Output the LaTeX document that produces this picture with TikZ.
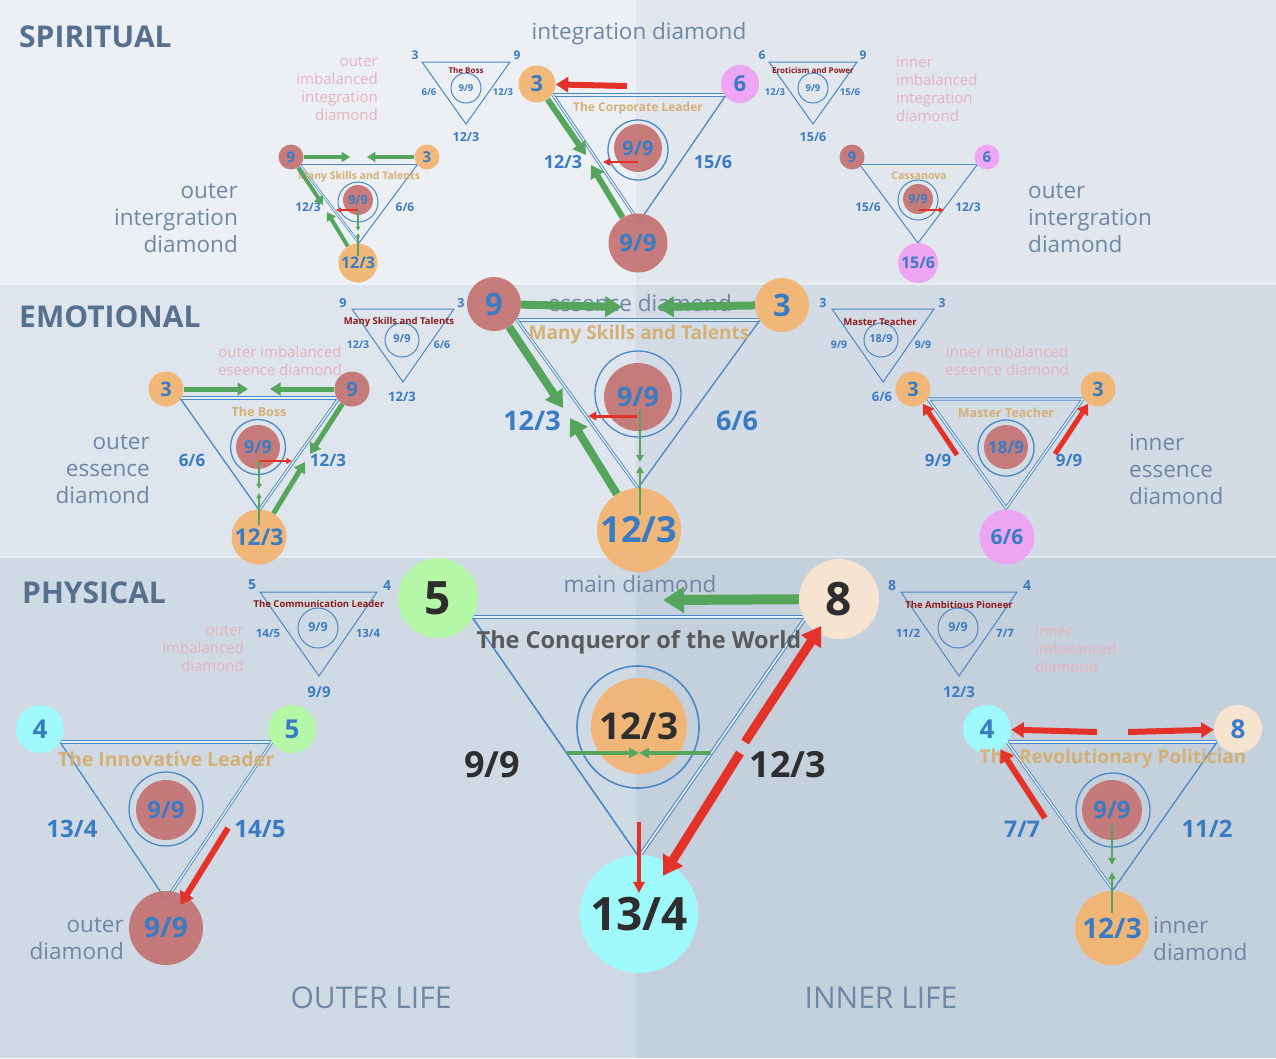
\documentclass[tikz,border=0pt]{standalone}
\usepackage{fontspec}
\setmainfont{Open Sans}
\usetikzlibrary{arrows.meta, positioning, calc}

\definecolor{bandSL}{HTML}{ECF0F5}
\definecolor{bandSR}{HTML}{E1E7ED}
\definecolor{bandEL}{HTML}{DEE5ED}
\definecolor{bandER}{HTML}{D3DBE5}
\definecolor{bandPL}{HTML}{D0DAE4}
\definecolor{bandPR}{HTML}{C5D0DD}
\definecolor{numblue}{HTML}{3A7CC4}
\definecolor{lineblue}{HTML}{4A88C8}
\definecolor{cred}{HTML}{C47272}
\definecolor{corange}{HTML}{F3B470}
\definecolor{cpink}{HTML}{F0A0F4}
\definecolor{ccyan}{HTML}{9CFCFF}
\definecolor{cgreen}{HTML}{B3FBA2}
\definecolor{cbeige}{HTML}{FBE6D0}
\definecolor{titletan}{HTML}{D5B075}
\definecolor{darkred}{HTML}{8E1B1B}
\definecolor{agreen}{HTML}{55A65C}
\definecolor{ared}{HTML}{E3322A}
\definecolor{sectgray}{HTML}{56708F}
\definecolor{lblgray}{HTML}{6F87A6}
\definecolor{fadepink}{HTML}{E8B3BC}
\definecolor{darktxt}{HTML}{2E2E2E}
\definecolor{maintitle}{HTML}{5A5A5A}

\begin{document}
\begin{tikzpicture}[
  x=1pt, y=-1pt,
  every node/.style={inner sep=0pt},
  sect/.style={anchor=west, text=sectgray, font=\bfseries\fontsize{30}{30}\selectfont},
  life/.style={text=lblgray, font=\fontsize{30}{30}\selectfont},
  zone/.style={text=lblgray, font=\fontsize{22.5}{27}\selectfont},
  fade/.style={text=fadepink, font=\fontsize{15}{18}\selectfont},
  bf/.style={font=\bfseries\fontsize{#1}{#1}\selectfont},
  vtx/.style={circle, minimum size=#1, fill opacity=0.92, text opacity=1, text=numblue},
  ring/.style={circle, draw=lineblue, line width=1.3pt, minimum size=#1},
  edge/.style={draw=lineblue, line width=1.3pt},
  edgeD/.style={draw=lineblue, line width=0.9pt, double=lineblue!12!white, double distance=1.3pt},
  elbl/.style={text=numblue, bf=#1},
  ttl/.style={text=titletan, bf=#1},
  sttl/.style={text=darkred, bf=#1},
  garr/.style={draw=agreen, line width=#1, -{Triangle[length=0pt 2.1, width=0pt 2.5]}},
  rarr/.style={draw=ared, line width=#1, -{Triangle[length=0pt 2.1, width=0pt 2.5]}},
  gthin/.style={draw=agreen, line width=#1, -{Triangle[length=0pt 2.8, width=0pt 2.8]}},
  rthin/.style={draw=ared, line width=#1, -{Triangle[length=0pt 2.8, width=0pt 2.8]}},
]
\useasboundingbox (0,0) rectangle (1276,1058);

%% ── Bands ─────────────────────────────────────────────────────────────────
\fill[bandSL] (0,0) rectangle (636,284);
\fill[bandSR] (636,0) rectangle (1276,284);
\fill[bandEL] (0,284) rectangle (636,557);
\fill[bandER] (636,284) rectangle (1276,557);
\fill[bandPL] (0,557) rectangle (636,1058);
\fill[bandPR] (636,557) rectangle (1276,1058);
\draw[white, opacity=0.45, line width=1.5pt] (0,284) -- (1276,284) (0,557) -- (1276,557);

%% ── Headings ──────────────────────────────────────────────────────────────
\node[sect] (hSpirit) at (19,37)  {SPIRITUAL};
\node[sect] (hEmot)   at (19,317) {EMOTIONAL};
\node[sect] (hPhys)   at (22,593) {PHYSICAL};
\node[life] (hOuter)  at (371,998) {OUTER LIFE};
\node[life] (hInner)  at (881,998) {INNER LIFE};

%% ── Zone labels ───────────────────────────────────────────────────────────
\node[zone] (zInt) at (639,34) {integration diamond};
\node[zone, align=right, anchor=east] (zOutInt) at (238,218) {outer\\intergration\\diamond};
\node[zone, align=left, anchor=west]  (zInnInt) at (1028,218) {outer\\intergration\\diamond};
\node[zone] (zEss) at (640,303) {essence diamond};
\node[zone, align=right, anchor=east] (zOutEss) at (150,469) {outer\\essence\\diamond};
\node[zone, align=left, anchor=west]  (zInnEss) at (1129,469) {inner\\essence\\diamond};
\node[zone] (zMain) at (640,584) {main diamond};
\node[zone, align=right, anchor=east] (zOut) at (124,939) {outer\\diamond};
\node[zone, align=left, anchor=west]  (zInn) at (1153,939) {inner\\diamond};

\node[fade, align=right, anchor=east] (fOutInt) at (378,89) {outer\\imbalanced\\integration\\diamond};
\node[fade, align=left, anchor=west]  (fInnInt) at (896,89) {inner\\imbalanced\\integration\\diamond};
\node[fade, align=center] (fOutEss) at (280,361) {outer imbalanced\\eseence diamond};
\node[fade, align=center] (fInnEss) at (1007,361) {inner imbalanced\\eseence diamond};
\node[fade, align=right, anchor=east] (fOut) at (244,649) {outer\\imbalanced\\diamond};
\node[fade, align=left, anchor=west]  (fInn) at (1035,649) {inner\\imbalanced\\diamond};

%% ── Small imbalanced: The Boss ────────────────────────────────────────────
\coordinate (sbA) at (422,62);
\coordinate (sbB) at (510,62);
\coordinate (sbC) at (466,124);
\draw[edge, line width=1pt] (sbA) -- (sbB) -- (sbC) -- cycle;
\node[ring=30pt, line width=1pt] (sbRing) at (466,88) {};
\node[elbl=9.5]  (sbCen) at (466,88) {9/9};
\node[sttl=8]    (sbTtl) at (466,70) {The Boss};
\node[elbl=12]   (sbL)   at (415,55) {3};
\node[elbl=12]   (sbR)   at (517,55) {9};
\node[elbl=9.5]  (sbEl)  at (429,92) {6/6};
\node[elbl=9.5]  (sbEr)  at (503,92) {12/3};
\node[elbl=12.5] (sbBot) at (466,137) {12/3};

%% ── Small imbalanced: Eroticism and Power ─────────────────────────────────
\coordinate (seA) at (769,62);
\coordinate (seB) at (857,62);
\coordinate (seC) at (813,124);
\draw[edge, line width=1pt] (seA) -- (seB) -- (seC) -- cycle;
\node[ring=30pt, line width=1pt] (seRing) at (813,88) {};
\node[elbl=9.5]  (seCen) at (813,88) {9/9};
\node[sttl=8]    (seTtl) at (813,70) {Eroticism and Power};
\node[elbl=12]   (seL)   at (762,55) {6};
\node[elbl=12]   (seR)   at (863,55) {9};
\node[elbl=9.5]  (seEl)  at (775,92) {12/3};
\node[elbl=9.5]  (seEr)  at (850,92) {15/6};
\node[elbl=12.5] (seBot) at (813,137) {15/6};

%% ── Integration diamond: The Corporate Leader ─────────────────────────────
\coordinate (intA) at (553,95);
\coordinate (intB) at (726,95);
\coordinate (intC) at (639,222);
\draw[edgeD] (intA) -- (intB);
\draw[edgeD] (intA) -- (intC);
\draw[edge]  (intB) -- (intC);
\node[ring=60pt] (intRing) at (638,150) {};
\node[vtx=48pt, fill=cred, bf=20]    (intCen) at (638,148) {9/9};
\node[vtx=37pt, fill=corange, bf=22] (intTL)  at (537,84)  {3};
\node[vtx=38pt, fill=cpink, bf=22]   (intTR)  at (740,84)  {6};
\node[vtx=59pt, fill=cred, bf=24]    (intBot) at (638,243) {9/9};
\node[ttl=12]  (intTtl) at (638,108) {The Corporate Leader};
\node[elbl=18] (intEl)  at (563,162) {12/3};
\node[elbl=18] (intEr)  at (713,162) {15/6};
\coordinate (intRa) at (627,86);
\coordinate (intGa) at (586,155);
\coordinate (intGb) at (591,165);
\coordinate (intSa) at (638,162);
\coordinate (intSb) at (603,162);
\draw[rarr=6pt]    (intRa) -- (intTL);
\draw[garr=6pt]    (intTL) -- (intGa);
\draw[garr=6pt]    (intBot) -- (intGb);
\draw[rthin=2.6pt] (intSa) -- (intSb);

%% ── Outer integration diamond: Many Skills and Talents ────────────────────
\coordinate (oiA) at (300,165);
\coordinate (oiB) at (417,165);
\coordinate (oiC) at (359,243);
\draw[edgeD, line width=0.7pt, double distance=1pt] (oiA) -- (oiB);
\draw[edgeD, line width=0.7pt, double distance=1pt] (oiA) -- (oiC);
\draw[edge, line width=1pt] (oiB) -- (oiC);
\node[ring=40pt, line width=1pt] (oiRing) at (358,202) {};
\node[vtx=30pt, fill=cred, bf=12.5]    (oiCen) at (358,200) {9/9};
\node[vtx=25pt, fill=cred, bf=15]      (oiTL)  at (291,157) {9};
\node[vtx=25pt, fill=corange, bf=15]   (oiTR)  at (427,157) {3};
\node[vtx=39pt, fill=corange, bf=16]   (oiBot) at (358,263) {12/3};
\node[ttl=10.5] (oiTtl) at (359,177) {Many Skills and Talents};
\node[elbl=12]  (oiEl)  at (308,207) {12/3};
\node[elbl=12]  (oiEr)  at (405,207) {6/6};
\coordinate (oiGa) at (350,157);
\coordinate (oiGb) at (367,157);
\coordinate (oiGc) at (323,205);
\coordinate (oiGd) at (327,212);
\coordinate (oiSa) at (358,210);
\coordinate (oiSb) at (336,210);
\coordinate (oiVa) at (358,231);
\coordinate (oiVb) at (358,256);
\coordinate (oiVc) at (358,233);
\draw[garr=4pt]    (oiTL) -- (oiGa);
\draw[garr=4pt]    (oiTR) -- (oiGb);
\draw[garr=4pt]    (oiTL) -- (oiGc);
\draw[garr=4pt]    (oiBot) -- (oiGd);
\draw[rthin=1.8pt] (oiSa) -- (oiSb);
\draw[gthin=1.6pt] (oiSa) -- (oiVa);
\draw[gthin=1.6pt] (oiVb) -- (oiVc);

%% ── Inner integration diamond: Cassanova ──────────────────────────────────
\coordinate (iiA) at (860,165);
\coordinate (iiB) at (977,165);
\coordinate (iiC) at (918,243);
\draw[edgeD, line width=0.7pt, double distance=1pt] (iiA) -- (iiB);
\draw[edge, line width=1pt] (iiA) -- (iiC) -- (iiB);
\node[ring=40pt, line width=1pt] (iiRing) at (918,200) {};
\node[vtx=30pt, fill=cred, bf=12.5]  (iiCen) at (918,199) {9/9};
\node[vtx=25pt, fill=cred, bf=15]    (iiTL)  at (852,157) {9};
\node[vtx=25pt, fill=cpink, bf=15]   (iiTR)  at (987,157) {6};
\node[vtx=40pt, fill=cpink, bf=16]   (iiBot) at (918,263) {15/6};
\node[ttl=10.5] (iiTtl) at (919,176) {Cassanova};
\node[elbl=12]  (iiEl)  at (868,207) {15/6};
\node[elbl=12]  (iiEr)  at (968,207) {12/3};
\coordinate (iiSa) at (919,210);
\coordinate (iiSb) at (944,210);
\draw[rthin=1.8pt] (iiSa) -- (iiSb);

%% ── Small imbalanced: Many Skills and Talents ─────────────────────────────
\coordinate (smA) at (352,309);
\coordinate (smB) at (454,309);
\coordinate (smC) at (403,382);
\draw[edge, line width=1pt] (smA) -- (smB) -- (smC) -- cycle;
\node[ring=34pt, line width=1pt] (smRing) at (402,340) {};
\node[elbl=11]   (smCen) at (402,339) {9/9};
\node[sttl=9.5]  (smTtl) at (399,322) {Many Skills and Talents};
\node[elbl=12.5] (smL)   at (343,303) {9};
\node[elbl=12.5] (smR)   at (461,303) {3};
\node[elbl=10.5] (smEl)  at (358,345) {12/3};
\node[elbl=10.5] (smEr)  at (442,345) {6/6};
\node[elbl=13]   (smBot) at (402,397) {12/3};

%% ── Small imbalanced: Master Teacher ──────────────────────────────────────
\coordinate (stA) at (832,309);
\coordinate (stB) at (934,309);
\coordinate (stC) at (883,382);
\draw[edge, line width=1pt] (stA) -- (stB) -- (stC) -- cycle;
\node[ring=34pt, line width=1pt] (stRing) at (881,340) {};
\node[elbl=11]   (stCen) at (881,339) {18/9};
\node[sttl=9.5]  (stTtl) at (880,322) {Master Teacher};
\node[elbl=12.5] (stL)   at (823,303) {3};
\node[elbl=12.5] (stR)   at (942,303) {3};
\node[elbl=10.5] (stEl)  at (839,345) {9/9};
\node[elbl=10.5] (stEr)  at (923,345) {9/9};
\node[elbl=13]   (stBot) at (882,397) {6/6};

%% ── Essence diamond: Many Skills and Talents ──────────────────────────────
\coordinate (essA) at (517,320);
\coordinate (essB) at (760,320);
\coordinate (essC) at (638,488);
\draw[edgeD] (essA) -- (essB);
\draw[edgeD] (essA) -- (essC);
\draw[edge]  (essB) -- (essC);
\node[ring=86pt] (essRing) at (638,394) {};
\node[vtx=68pt, fill=cred, bf=27]    (essCen) at (638,397) {9/9};
\node[vtx=54pt, fill=cred, bf=31]    (essTL)  at (494,304) {9};
\node[vtx=54pt, fill=corange, bf=31] (essTR)  at (782,305) {3};
\node[vtx=84pt, fill=corange, bf=36] (essBot) at (639,530) {12/3};
\node[ttl=19]  (essTtl) at (639,335) {Many Skills and Talents};
\node[elbl=27] (essEl)  at (532,421) {12/3};
\node[elbl=27] (essEr)  at (737,421) {6/6};
\coordinate (essGa) at (622,307);
\coordinate (essGb) at (657,307);
\coordinate (essGc) at (563,408);
\coordinate (essGd) at (570,418);
\coordinate (essSa) at (637,416);
\coordinate (essSb) at (588,416);
\coordinate (essVa) at (640,410);
\coordinate (essVb) at (640,462);
\coordinate (essVc) at (640,515);
\coordinate (essVd) at (640,466);
\draw[garr=8pt]    (essTL) -- (essGa);
\draw[garr=8pt]    (essTR) -- (essGb);
\draw[garr=8pt]    (essTL) -- (essGc);
\draw[garr=8pt]    (essBot) -- (essGd);
\draw[rthin=3pt]   (essSa) -- (essSb);
\draw[gthin=2.5pt] (essVa) -- (essVb);
\draw[gthin=2.5pt] (essVc) -- (essVd);

%% ── Outer essence diamond: The Boss ───────────────────────────────────────
\coordinate (oeA) at (180,398);
\coordinate (oeB) at (339,398);
\coordinate (oeC) at (259,510);
\draw[edgeD] (oeA) -- (oeB);
\draw[edgeD] (oeB) -- (oeC);
\draw[edge]  (oeA) -- (oeC);
\node[ring=55pt] (oeRing) at (258,447) {};
\node[vtx=44pt, fill=cred, bf=18]    (oeCen) at (258,447) {9/9};
\node[vtx=35pt, fill=corange, bf=20] (oeTL)  at (166,389) {3};
\node[vtx=35pt, fill=cred, bf=20]    (oeTR)  at (352,389) {9};
\node[vtx=55pt, fill=corange, bf=23] (oeBot) at (259,537) {12/3};
\node[ttl=12.5] (oeTtl) at (259,412) {The Boss};
\node[elbl=17]  (oeEl)  at (192,460) {6/6};
\node[elbl=17]  (oeEr)  at (328,460) {12/3};
\coordinate (oeGa) at (248,389);
\coordinate (oeGb) at (270,389);
\coordinate (oeGc) at (310,454);
\coordinate (oeGd) at (305,462);
\coordinate (oeSa) at (259,461);
\coordinate (oeSb) at (292,461);
\coordinate (oeVa) at (259,489);
\coordinate (oeVb) at (259,525);
\coordinate (oeVc) at (259,493);
\draw[garr=5pt]    (oeTL) -- (oeGa);
\draw[garr=5pt]    (oeTR) -- (oeGb);
\draw[garr=5pt]    (oeTR) -- (oeGc);
\draw[garr=5pt]    (oeBot) -- (oeGd);
\draw[rthin=2pt]   (oeSa) -- (oeSb);
\draw[gthin=1.8pt] (oeSa) -- (oeVa);
\draw[gthin=1.8pt] (oeVb) -- (oeVc);

%% ── Inner essence diamond: Master Teacher ─────────────────────────────────
\coordinate (ieA) at (928,399);
\coordinate (ieB) at (1083,399);
\coordinate (ieC) at (1006,508);
\draw[edgeD] (ieA) -- (ieB) -- (ieC) -- cycle;
\node[ring=56pt] (ieRing) at (1006,448) {};
\node[vtx=44pt, fill=cred, bf=17]   (ieCen) at (1006,447) {18/9};
\node[vtx=35pt, fill=corange, bf=20] (ieTL) at (913,389) {3};
\node[vtx=35pt, fill=corange, bf=20] (ieTR) at (1098,389) {3};
\node[vtx=55pt, fill=cpink, bf=21]   (ieBot) at (1007,537) {6/6};
\node[ttl=12.5] (ieTtl) at (1006,413) {Master Teacher};
\node[elbl=17]  (ieEl)  at (938,460) {9/9};
\node[elbl=17]  (ieEr)  at (1069,460) {9/9};
\coordinate (ieRa) at (957,455);
\coordinate (ieRb) at (1055,454);
\draw[rarr=5pt] (ieRa) -- (ieTL);
\draw[rarr=5pt] (ieRb) -- (ieTR);

%% ── Small imbalanced: The Communication Leader ────────────────────────────
\coordinate (scA) at (260,592);
\coordinate (scB) at (377,592);
\coordinate (scC) at (319,676);
\draw[edge, line width=1pt] (scA) -- (scB) -- (scC) -- cycle;
\node[ring=40pt, line width=1pt] (scRing) at (318,628) {};
\node[elbl=12.5] (scCen) at (318,627) {9/9};
\node[sttl=9.5]  (scTtl) at (319,604) {The Communication Leader};
\node[elbl=14]   (scL)   at (252,585) {5};
\node[elbl=14]   (scR)   at (387,585) {4};
\node[elbl=11.5] (scEl)  at (268,633) {14/5};
\node[elbl=11.5] (scEr)  at (368,633) {13/4};
\node[elbl=15]   (scBot) at (319,692) {9/9};

%% ── Small imbalanced: The Ambitious Pioneer ───────────────────────────────
\coordinate (saA) at (901,592);
\coordinate (saB) at (1017,592);
\coordinate (saC) at (959,676);
\draw[edge, line width=1pt] (saA) -- (saB) -- (saC) -- cycle;
\node[ring=40pt, line width=1pt] (saRing) at (958,628) {};
\node[elbl=12.5] (saCen) at (958,627) {9/9};
\node[sttl=9.5]  (saTtl) at (959,605) {The Ambitious Pioneer};
\node[elbl=14]   (saL)   at (892,585) {8};
\node[elbl=14]   (saR)   at (1027,585) {4};
\node[elbl=11.5] (saEl)  at (908,633) {11/2};
\node[elbl=11.5] (saEr)  at (1005,633) {7/7};
\node[elbl=15]   (saBot) at (959,692) {12/3};

%% ── Main diamond: The Conqueror of the World ──────────────────────────────
\coordinate (mnA) at (472,617);
\coordinate (mnB) at (806,617);
\coordinate (mnC) at (639,857);
\draw[edgeD, line width=1.2pt, double distance=1.6pt] (mnA) -- (mnB);
\draw[edgeD, line width=1.1pt, double distance=1.6pt] (mnB) -- (mnC);
\draw[edge, line width=1.6pt] (mnA) -- (mnC);
\node[ring=122pt, line width=1.6pt] (mnRing) at (638,727) {};
\node[vtx=96pt, fill=corange, text=darktxt, bf=37]  (mnCen) at (639,726) {12/3};
\node[vtx=80pt, fill=cgreen, text=darktxt, bf=46]   (mnTL)  at (438,598) {5};
\node[vtx=80pt, fill=cbeige, text=darktxt, bf=46]   (mnTR)  at (839,599) {8};
\node[vtx=118pt, fill=ccyan, text=darktxt, bf=46]   (mnBot) at (639,914) {13/4};
\node[text=maintitle, bf=23.5] (mnTtl) at (639,642) {The Conqueror of the World};
\node[text=darktxt, bf=36] (mnEl) at (492,765) {9/9};
\node[text=darktxt, bf=36] (mnEr) at (788,765) {12/3};
\coordinate (mnGa) at (663,600);
\coordinate (mnGb) at (567,753);
\coordinate (mnGc) at (639,753);
\coordinate (mnGd) at (711,753);
\coordinate (mnRa) at (639,822);
\coordinate (mnRb) at (639,893);
\coordinate (mnRc) at (745,742);
\coordinate (mnRd) at (740,753);
\draw[garr=10pt]  (mnTR) -- (mnGa);
\draw[gthin=3.5pt] (mnGb) -- (mnGc);
\draw[gthin=3.5pt] (mnGd) -- (mnGc);
\draw[rthin=4pt]  (mnRa) -- (mnRb);
\draw[rarr=9pt, shorten >=-8pt] (mnRc) -- (mnTR);
\draw[rarr=9pt, shorten >=-14pt] (mnRd) -- (mnBot);

%% ── Outer diamond: The Innovative Leader ──────────────────────────────────
\coordinate (odA) at (60,742);
\coordinate (odB) at (272,742);
\coordinate (odC) at (166,900);
\draw[edgeD] (odA) -- (odB);
\draw[edgeD] (odB) -- (odC);
\draw[edge]  (odA) -- (odC);
\node[ring=74pt] (odRing) at (166,809) {};
\node[vtx=60pt, fill=cred, bf=24]   (odCen) at (166,810) {9/9};
\node[vtx=48pt, fill=ccyan, bf=26]  (odTL)  at (40,729) {4};
\node[vtx=48pt, fill=cgreen, bf=26] (odTR)  at (292,729) {5};
\node[vtx=74pt, fill=cred, bf=28]   (odBot) at (166,928) {9/9};
\node[ttl=19.5] (odTtl) at (166,759) {The Innovative Leader};
\node[elbl=24]  (odEl)  at (72,829) {13/4};
\node[elbl=24]  (odEr)  at (260,829) {14/5};
\coordinate (odRa) at (228,828);
\draw[rarr=6pt, shorten >=-10pt] (odRa) -- (odBot);

%% ── Inner diamond: The Revolutionary Politician ───────────────────────────
\coordinate (idA) at (1007,742);
\coordinate (idB) at (1217,742);
\coordinate (idC) at (1113,890);
\draw[edgeD] (idA) -- (idB);
\draw[edgeD] (idA) -- (idC);
\draw[edge]  (idB) -- (idC);
\node[ring=74pt] (idRing) at (1113,810) {};
\node[vtx=60pt, fill=cred, bf=24]    (idCen) at (1112,810) {9/9};
\node[vtx=48pt, fill=ccyan, bf=26]   (idTL)  at (987,729) {4};
\node[vtx=48pt, fill=cbeige, bf=26]  (idTR)  at (1238,729) {8};
\node[vtx=74pt, fill=corange, bf=28] (idBot) at (1112,928) {12/3};
\node[ttl=19]   (idTtl) at (1113,759) {The Revolutionary Politician};
\node[elbl=23]  (idEl)  at (1022,829) {7/7};
\node[elbl=24]  (idEr)  at (1207,829) {11/2};
\coordinate (idRa) at (1097,732);
\coordinate (idRb) at (1128,732);
\coordinate (idRc) at (1045,818);
\coordinate (idVa) at (1112,823);
\coordinate (idVb) at (1112,865);
\coordinate (idVc) at (1112,913);
\coordinate (idVd) at (1112,872);
\draw[rarr=6pt] (idRa) -- (idTL);
\draw[rarr=6pt] (idRb) -- (idTR);
\draw[rarr=6pt] (idRc) -- (idTL);
\draw[gthin=2.5pt] (idVa) -- (idVb);
\draw[gthin=2.5pt] (idVc) -- (idVd);

\end{tikzpicture}
\end{document}
